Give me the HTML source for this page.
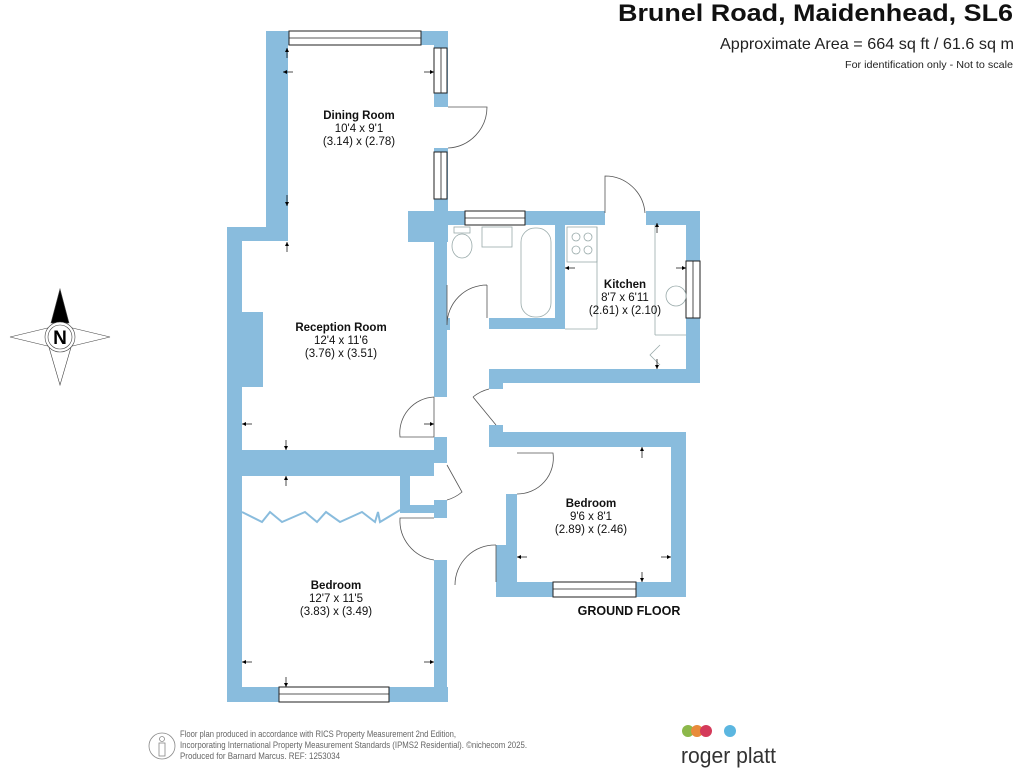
<!DOCTYPE html>
<html><head><meta charset="utf-8"><style>
html,body{margin:0;padding:0;background:#fff;width:1024px;height:768px;overflow:hidden}
svg{display:block}
text{font-family:"Liberation Sans",Arial,sans-serif}
</style></head><body>
<svg width="1024" height="768" viewBox="0 0 1024 768" xmlns="http://www.w3.org/2000/svg">
<defs>
<marker id="ar" markerWidth="6" markerHeight="6" refX="6" refY="3" orient="auto"><path d="M0,0 L6,3 L0,6z" fill="#000"/></marker>
</defs>
<text x="1013" y="21" text-anchor="end" font-size="24" font-weight="bold" fill="#111" textLength="395" lengthAdjust="spacingAndGlyphs">Brunel Road, Maidenhead, SL6</text>
<text x="1014" y="49" text-anchor="end" font-size="16" fill="#222" textLength="294" lengthAdjust="spacingAndGlyphs">Approximate Area = 664 sq ft / 61.6 sq m</text>
<text x="1013" y="68" text-anchor="end" font-size="10.5" fill="#222" textLength="168" lengthAdjust="spacingAndGlyphs">For identification only - Not to scale</text>

<g fill="#89bcdd">
<rect x="266" y="31" width="22" height="196"/>
<rect x="266" y="31" width="182" height="14"/>
<rect x="434" y="31" width="14" height="76"/>
<rect x="434" y="148" width="14" height="94"/>
<rect x="408" y="211" width="40" height="31"/>
<rect x="227" y="227" width="61" height="14"/>
<rect x="227" y="227" width="15" height="475"/>
<rect x="241" y="312" width="22" height="75"/>
<rect x="434" y="242" width="13" height="155"/>
<rect x="434" y="437" width="13" height="26"/>
<rect x="227" y="450" width="207" height="26"/>
<rect x="400" y="458" width="10" height="55"/>
<rect x="400" y="505" width="47" height="8"/>
<rect x="434" y="500" width="13" height="18"/>
<rect x="434" y="560" width="13" height="142"/>
<rect x="227" y="687" width="221" height="15"/>
<rect x="448" y="211" width="157" height="14"/>
<rect x="646" y="211" width="54" height="14"/>
<rect x="686" y="211" width="14" height="172"/>
<rect x="555" y="211" width="10" height="118"/>
<rect x="489" y="318" width="74" height="11"/>
<rect x="447" y="318" width="3" height="12"/>
<rect x="489" y="369" width="211" height="14"/>
<rect x="489" y="369" width="14" height="20"/>
<rect x="489" y="425" width="14" height="22"/>
<rect x="489" y="432" width="197" height="15"/>
<rect x="671" y="432" width="15" height="165"/>
<rect x="506" y="494" width="11" height="103"/>
<rect x="496" y="582" width="190" height="15"/>
<rect x="496" y="545" width="10" height="52"/>
</g>
<g fill="#fff" stroke="#222" stroke-width="1">
<rect x="289" y="31" width="132" height="14"/>
<rect x="434" y="48" width="13" height="45"/>
<rect x="434" y="152" width="13" height="47"/>
<rect x="465" y="211" width="60" height="14"/>
<rect x="686" y="261" width="14" height="57"/>
<rect x="279" y="687" width="110" height="15"/>
<rect x="553" y="582" width="83" height="15"/>
</g>
<g stroke="#222" stroke-width="0.8">
<line x1="289" y1="38" x2="421" y2="38"/>
<line x1="441" y1="48" x2="441" y2="93"/><line x1="441" y1="152" x2="441" y2="199"/>
<line x1="465" y1="218" x2="525" y2="218"/><line x1="693" y1="261" x2="693" y2="318"/>
<line x1="279" y1="694" x2="389" y2="694"/><line x1="553" y1="589" x2="636" y2="589"/>
</g>
<g fill="none" stroke="#555" stroke-width="0.8">
<path d="M448,107 L487,107 A41,41 0 0 1 448,148"/>
<path d="M605,213 L605,176 A40,40 0 0 1 645,213"/>
<path d="M447,285 L447,325 M487,285 A40,40 0 0 0 447,325 M487,285 L487,318"/>
<path d="M434,397 L434,437 M434,437 L400,437 A36,36 0 0 1 434,397"/>
<path d="M473,397 L496,425 M489,389 A40,40 0 0 0 473,397"/>
<path d="M447,465 L462,492 A40,40 0 0 1 447,500"/>
<path d="M434,518 L400,518 A40,40 0 0 0 434,560"/>
<path d="M496,545 A40,40 0 0 0 455,585 M496,545 L496,582"/>
<path d="M517,453 L553,453 A36,36 0 0 1 517,494"/>
<path d="M242,512 L262,522 L270,512 L282,522 L305,512 L317,522 L326,512 L340,522 L362,512 L375,522 L378,512 L380,522 L400,510" stroke="#89bcdd" stroke-width="2"/>
</g>
<g fill="none" stroke="#9aa" stroke-width="0.8">
<ellipse cx="462" cy="246" rx="10" ry="12"/><rect x="454" y="227" width="16" height="6"/>
<rect x="482" y="227" width="30" height="20"/>
<rect x="521" y="228" width="30" height="89" rx="14"/>
<rect x="567" y="227" width="30" height="35"/>
<circle cx="576" cy="237" r="4"/><circle cx="588" cy="237" r="4"/><circle cx="576" cy="250" r="4"/><circle cx="588" cy="250" r="4"/>
<line x1="597" y1="227" x2="597" y2="329"/><line x1="565" y1="329" x2="597" y2="329"/>
<line x1="655" y1="225" x2="655" y2="335"/><line x1="655" y1="335" x2="686" y2="335"/>
<circle cx="676" cy="296" r="10"/>
<path d="M660,345 L650,355 L660,365"/>
</g>
<g stroke="#000" stroke-width="0.7" marker-end="url(#ar)">
<line x1="287" y1="58" x2="287" y2="48"/><line x1="293" y1="72" x2="283" y2="72"/><line x1="424" y1="72" x2="434" y2="72"/>
<line x1="287" y1="195" x2="287" y2="206"/><line x1="287" y1="252" x2="287" y2="242"/>
<line x1="252" y1="424" x2="242" y2="424"/><line x1="424" y1="424" x2="434" y2="424"/>
<line x1="286" y1="440" x2="286" y2="450"/><line x1="286" y1="486" x2="286" y2="476"/>
<line x1="252" y1="662" x2="242" y2="662"/><line x1="424" y1="662" x2="434" y2="662"/>
<line x1="286" y1="677" x2="286" y2="687"/>
<line x1="575" y1="268" x2="565" y2="268"/><line x1="676" y1="268" x2="686" y2="268"/>
<line x1="657" y1="233" x2="657" y2="223"/><line x1="657" y1="359" x2="657" y2="369"/>
<line x1="642" y1="458" x2="642" y2="447"/><line x1="527" y1="557" x2="517" y2="557"/>
<line x1="661" y1="557" x2="671" y2="557"/><line x1="642" y1="572" x2="642" y2="582"/>
</g>
<g font-size="11.5" fill="#111" text-anchor="middle">
<text x="359" y="119" font-weight="bold">Dining Room</text><text x="359" y="132">10'4 x 9'1</text><text x="359" y="145">(3.14) x (2.78)</text>
<text x="341" y="331" font-weight="bold">Reception Room</text><text x="341" y="344">12'4 x 11'6</text><text x="341" y="357">(3.76) x (3.51)</text>
<text x="625" y="288" font-weight="bold">Kitchen</text><text x="625" y="301">8'7 x 6'11</text><text x="625" y="314">(2.61) x (2.10)</text>
<text x="591" y="507" font-weight="bold">Bedroom</text><text x="591" y="520">9'6 x 8'1</text><text x="591" y="533">(2.89) x (2.46)</text>
<text x="336" y="589" font-weight="bold">Bedroom</text><text x="336" y="602">12'7 x 11'5</text><text x="336" y="615">(3.83) x (3.49)</text>
<text x="629" y="615" font-weight="bold" font-size="12.5">GROUND FLOOR</text>
</g>
<g transform="translate(60,337)" stroke="#444" stroke-width="0.6" fill="#fff">
<path d="M0,-28 L14,0 L0,48 L-14,0z M-50,0 L0,-12 L50,0 L0,12z"/>
<path d="M0,-48 L-9,-14 L9,-14z" fill="#000"/>
<circle r="15"/><circle r="12"/>
<text y="7" text-anchor="middle" font-size="19" font-weight="bold" fill="#000" stroke="none">N</text>
</g>
<g transform="translate(162,746)" fill="none" stroke="#888" stroke-width="0.8"><circle r="13"/><circle cy="-7" r="2.5"/><rect x="-3" y="-3" width="6" height="13"/></g>
<g font-size="9" fill="#666">
<text x="180" y="737" textLength="276" lengthAdjust="spacingAndGlyphs">Floor plan produced in accordance with RICS Property Measurement 2nd Edition,</text>
<text x="180" y="748" textLength="347" lengthAdjust="spacingAndGlyphs">Incorporating International Property Measurement Standards (IPMS2 Residential).   ©nichecom 2025.</text>
<text x="180" y="759" textLength="160" lengthAdjust="spacingAndGlyphs">Produced for Barnard Marcus.   REF:  1253034</text>
</g>
<circle cx="688" cy="731" r="6" fill="#8cb84a"/><circle cx="697" cy="731" r="6" fill="#e88b3a"/><circle cx="706" cy="731" r="6" fill="#d43a5a"/><circle cx="730" cy="731" r="6" fill="#5bb6e0"/>
<text x="681" y="763" font-size="22" fill="#333" textLength="95" lengthAdjust="spacingAndGlyphs">roger platt</text>
</svg>
</body></html>
